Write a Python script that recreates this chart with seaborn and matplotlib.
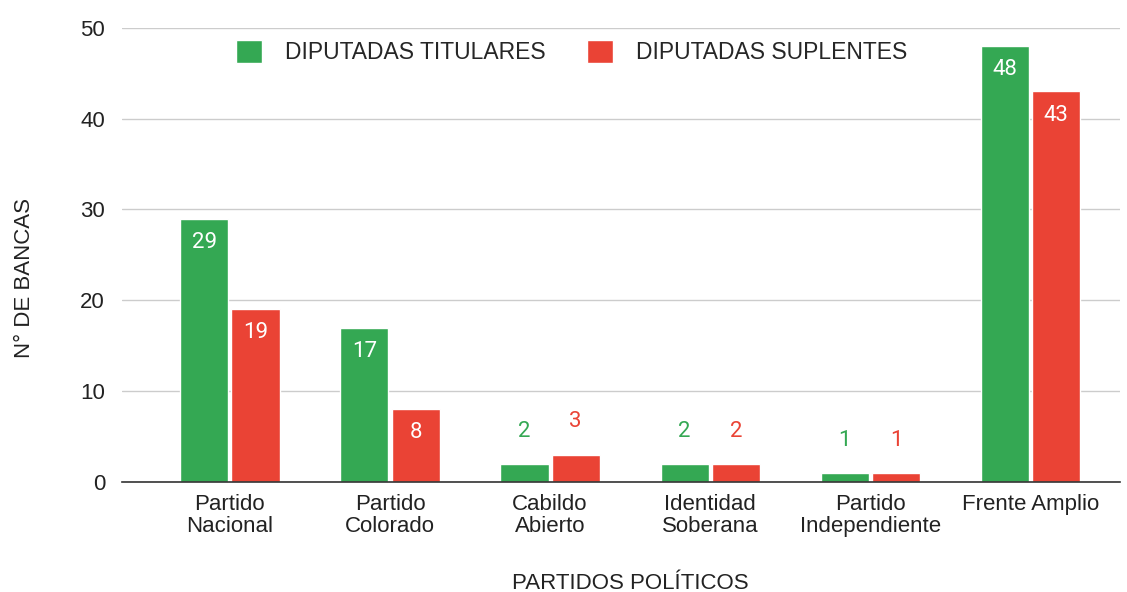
import matplotlib
matplotlib.use("Agg")
import matplotlib.pyplot as plt
import pandas as pd
import seaborn as sns

# Data
partidos = ["Partido\nNacional", "Partido\nColorado", "Cabildo\nAbierto",
            "Identidad\nSoberana", "Partido\nIndependiente", "Frente Amplio"]
titulares = [29, 17, 2, 2, 1, 48]
suplentes = [19, 8, 3, 2, 1, 43]
series = ["DIPUTADAS TITULARES", "DIPUTADAS SUPLENTES"]
colores = ["#34A853", "#EA4335"]

df = pd.DataFrame({
    "partido": partidos * 2,
    "tipo": [series[0]] * len(partidos) + [series[1]] * len(partidos),
    "bancas": titulares + suplentes,
})

sns.set_style("white")
plt.rcParams["font.family"] = ["Liberation Sans", "DejaVu Sans"]

fig = plt.figure(figsize=(11.27, 5.92), dpi=100)
ax = fig.add_axes([0.108, 0.186, 0.886, 0.767])

sns.barplot(data=df, x="partido", y="bancas", hue="tipo", palette=colores,
            width=0.64, gap=0.06, saturation=1, ax=ax, legend=True)

ax.set_ylim(0, 50)
ax.set_xlim(-0.675, 5.56)
ax.set_yticks(range(0, 51, 10))
ax.grid(axis="y", color="#cccccc", linewidth=1)
ax.set_axisbelow(True)
for s in ["top", "right", "left"]:
    ax.spines[s].set_visible(False)
ax.spines["bottom"].set_color("#333333")
ax.spines["bottom"].set_linewidth(1.2)
ax.tick_params(axis="both", length=0, labelsize=16, colors="#222222")
ax.tick_params(axis="y", pad=12)
ax.tick_params(axis="x", pad=9)
for lab in ax.get_xticklabels():
    lab.set_linespacing(1.05)

ax.set_xlabel("PARTIDOS POLÍTICOS", fontsize=16, color="#222222")
ax.set_ylabel("N° DE BANCAS", fontsize=16, color="#222222")
ax.xaxis.set_label_coords(0.509, -0.2)
ax.yaxis.set_label_coords(-0.087, 0.45)

# value labels
for cont, col in zip(ax.containers, colores):
    for bar in cont:
        h = bar.get_height()
        x = bar.get_x() + bar.get_width() / 2
        if h >= 5:
            ax.text(x, h - 2.6, f"{int(h)}", ha="center", va="center",
                    color="white", fontsize=16, family=["Roboto", "DejaVu Sans"])
        else:
            ax.text(x, h + 3.6, f"{int(h)}", ha="center", va="center",
                    color=col, fontsize=16, family=["Roboto", "DejaVu Sans"])

handles, labels = ax.get_legend_handles_labels()
ax.legend(handles, labels, loc="center", bbox_to_anchor=(0.507, 0.912),
          bbox_transform=fig.transFigure, ncol=2, frameon=False, fontsize=16.5,
          handlelength=1.15, handleheight=1.15, handletextpad=1.0,
          columnspacing=1.8)

fig.savefig("out.png", dpi=100)
